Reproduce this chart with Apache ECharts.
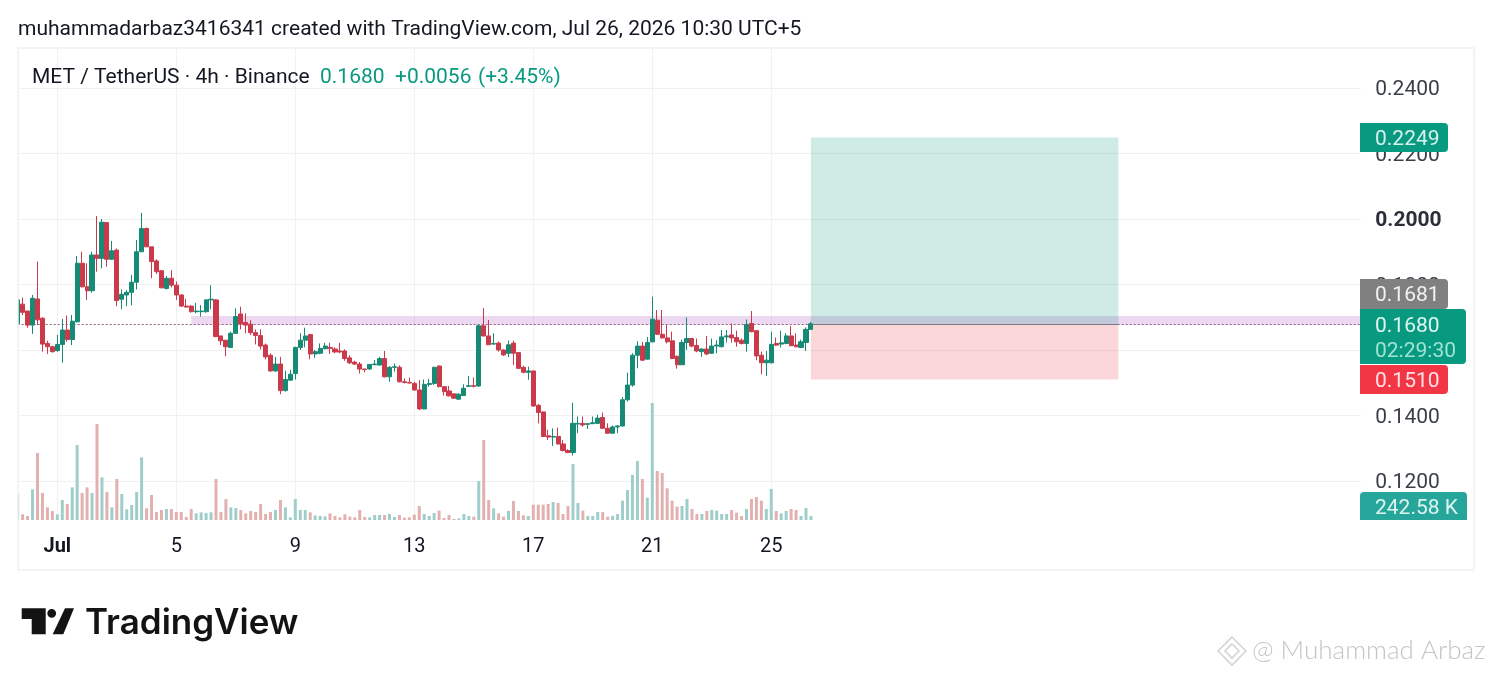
<!DOCTYPE html>
<html><head><meta charset="utf-8">
<style>html,body{margin:0;padding:0;background:#fff}#c{width:1492px;height:675px}</style>
<script src="https://cdn.jsdelivr.net/npm/echarts@6/dist/echarts.min.js"></script>
</head><body><div id="c"></div>
<script>
const opens=[.1681,
.1740,.1719,.1676,.1756,.1697,.1620,.1610,.1598,.1617,.1661,
.1632,.1686,.1865,.1793,.1781,.1890,.1880,.1989,.1877,.1905,
.1755,.1768,.1776,.1807,.1900,.1971,.1915,.1872,.1842,.1788,
.1819,.1798,.1768,.1734,.1734,.1717,.1717,.1717,.1753,.1753,
.1643,.1630,.1608,.1651,.1710,.1684,.1679,.1653,.1644,.1615,
.1584,.1536,.1557,.1476,.1508,.1528,.1608,.1630,.1647,.1588,
.1590,.1604,.1608,.1603,.1597,.1597,.1576,.1563,.1557,.1542,
.1542,.1555,.1554,.1574,.1518,.1547,.1547,.1503,.1501,.1498,
.1478,.1420,.1495,.1498,.1551,.1488,.1475,.1466,.1450,.1461,
.1489,.1491,.1490,.1674,.1643,.1618,.1621,.1600,.1590,.1621,
.1592,.1547,.1532,.1536,.1431,.1411,.1338,.1334,.1336,.1313,
.1293,.1287,.1374,.1376,.1373,.1375,.1376,.1394,.1361,.1346,
.1365,.1368,.1448,.1493,.1584,.1612,.1572,.1625,.1691,.1648,
.1637,.1628,.1581,.1555,.1623,.1635,.1614,.1595,.1603,.1590,
.1612,.1610,.1640,.1646,.1638,.1630,.1620,.1681,.1659,.1584,
.1561,.1561,.1620,.1618,.1620,.1643,.1615,.1608,.1623,.1663];
const closes=[.1753,
.1715,.1676,.1758,.1692,.1618,.1610,.1595,.1617,.1661,.1632,
.1688,.1865,.1793,.1781,.1890,.1880,.1990,.1877,.1903,.1751,
.1770,.1776,.1807,.1900,.1971,.1915,.1870,.1839,.1790,.1819,
.1798,.1768,.1734,.1731,.1717,.1719,.1719,.1753,.1755,.1641,
.1628,.1610,.1651,.1702,.1681,.1676,.1653,.1644,.1612,.1579,
.1536,.1557,.1476,.1510,.1526,.1608,.1630,.1643,.1588,.1595,
.1605,.1612,.1605,.1594,.1594,.1574,.1561,.1557,.1542,.1540,
.1556,.1557,.1574,.1518,.1547,.1549,.1503,.1501,.1499,.1478,
.1420,.1495,.1498,.1547,.1488,.1473,.1460,.1453,.1465,.1483,
.1491,.1489,.1674,.1643,.1616,.1620,.1600,.1585,.1616,.1590,
.1544,.1532,.1536,.1429,.1409,.1336,.1334,.1336,.1313,.1293,
.1287,.1376,.1376,.1371,.1375,.1378,.1392,.1361,.1346,.1365,
.1368,.1448,.1493,.1584,.1612,.1569,.1623,.1694,.1648,.1637,
.1625,.1574,.1555,.1623,.1635,.1612,.1597,.1603,.1588,.1612,
.1615,.1640,.1643,.1637,.1625,.1620,.1678,.1656,.1582,.1561,
.1569,.1617,.1615,.1622,.1643,.1613,.1610,.1625,.1663,.1680];
const highs=[.1758,
.1760,.1719,.1768,.1870,.1700,.1628,.1613,.1646,.1695,.1705,
.1707,.1887,.1900,.1865,.1900,.2009,.2000,.1989,.1933,.1910,
.1785,.1783,.1829,.1936,.2019,.1974,.1915,.1877,.1844,.1826,
.1844,.1809,.1770,.1756,.1737,.1744,.1737,.1755,.1798,.1755,
.1643,.1630,.1656,.1727,.1732,.1712,.1691,.1663,.1663,.1620,
.1590,.1579,.1579,.1537,.1539,.1610,.1651,.1668,.1649,.1600,
.1620,.1622,.1622,.1608,.1622,.1602,.1584,.1567,.1563,.1542,
.1557,.1569,.1579,.1597,.1551,.1559,.1553,.1513,.1516,.1503,
.1508,.1510,.1512,.1549,.1553,.1490,.1490,.1468,.1468,.1495,
.1521,.1516,.1677,.1728,.1692,.1651,.1626,.1602,.1629,.1629,
.1593,.1552,.1549,.1537,.1435,.1412,.1356,.1361,.1363,.1325,
.1297,.1439,.1397,.1397,.1376,.1397,.1402,.1409,.1376,.1370,
.1371,.1456,.1531,.1590,.1627,.1625,.1640,.1763,.1722,.1722,
.1676,.1656,.1583,.1632,.1699,.1637,.1635,.1605,.1643,.1635,
.1630,.1661,.1661,.1681,.1659,.1635,.1693,.1719,.1661,.1595,
.1597,.1656,.1638,.1659,.1651,.1673,.1651,.1632,.1669,.1686];
const lows=[.1675,
.1707,.1668,.1649,.1676,.1595,.1588,.1592,.1595,.1561,.1625,
.1615,.1684,.1791,.1753,.1775,.1839,.1849,.1854,.1875,.1734,
.1725,.1734,.1736,.1785,.1900,.1915,.1819,.1832,.1788,.1785,
.1791,.1753,.1732,.1730,.1714,.1712,.1702,.1714,.1724,.1639,
.1615,.1581,.1608,.1649,.1663,.1651,.1646,.1617,.1602,.1571,
.1534,.1534,.1465,.1473,.1506,.1510,.1600,.1608,.1572,.1576,
.1587,.1602,.1588,.1590,.1590,.1567,.1557,.1554,.1528,.1532,
.1539,.1554,.1553,.1516,.1503,.1534,.1501,.1498,.1498,.1475,
.1417,.1419,.1488,.1493,.1486,.1461,.1458,.1451,.1448,.1460,
.1488,.1486,.1488,.1641,.1616,.1616,.1595,.1582,.1578,.1554,
.1542,.1529,.1509,.1427,.1376,.1334,.1325,.1307,.1312,.1290,
.1285,.1278,.1346,.1366,.1359,.1374,.1374,.1359,.1344,.1344,
.1346,.1366,.1443,.1488,.1544,.1567,.1571,.1623,.1646,.1635,
.1620,.1572,.1543,.1554,.1600,.1608,.1593,.1579,.1584,.1588,
.1590,.1608,.1623,.1622,.1610,.1617,.1595,.1654,.1569,.1526,
.1521,.1559,.1612,.1608,.1618,.1612,.1608,.1606,.1597,.1661];
// volume, thousands
const volumes=[1560,
340,240,1840,4020,1620,760,540,340,1200,960,
1960,4500,1620,1960,1620,5760,2560,1680,760,2460,
1560,640,900,1680,3760,700,1500,480,600,660,
660,480,480,180,660,400,460,420,460,2460,
480,1260,760,720,600,400,540,480,960,360,
480,600,1200,760,160,1260,600,600,460,280,
240,220,400,240,160,340,200,160,600,180,
160,300,300,300,360,180,300,140,160,320,
840,360,240,420,560,120,300,60,100,360,
240,200,2340,4800,1200,700,400,200,540,1140,
540,280,240,920,920,920,960,1080,1020,360,
840,3360,1020,560,240,240,480,480,200,240,
360,1160,1800,2700,3540,2460,1340,7020,2940,2820,
1900,1160,800,840,1260,660,360,360,540,600,
560,360,360,600,440,240,660,1260,1380,1160,
660,1860,540,400,540,660,600,240,720,242.58];
const slotCount=272;
const categories=Array.from({length:slotCount},(_,i)=>'bar '+i);
const dateTicks={8:'Jul',32:'5',56:'9',80:'13',104:'17',128:'21',152:'25'};
const priceTicks={min:0.10,max:0.26,interval:0.02};
const lastPrice=0.1680, stopPrice=0.1510, targetPrice=0.2249;
const zoneTop=0.1704, zoneBottom=0.1677;
const posStart=160, posEnd=222, zoneStart=35;

const UP='#178a76', DOWN='#cb3a4b', F='Roboto';
const chart=echarts.init(document.getElementById('c'),null,{renderer:'canvas'});
const txt=(x,y,text,o={})=>({type:'text',x,y:y+(o.dy===undefined?2:o.dy),z:o.z||110,silent:true,style:Object.assign({text,fill:'#131722',font:`${o.w||400} ${o.s||21}px ${o.f||F}`,textVerticalAlign:'middle',textAlign:o.a||'left'},o.c?{fill:o.c}:{})});
const tag=(x,y,w,h,color,r)=>({type:'rect',z:105,silent:true,shape:{x,y,width:w,height:h,r:r||[0,4,4,0]},style:{fill:color}});
const poly=(pts,fill)=>({type:'polygon',z:110,silent:true,shape:{points:pts},style:{fill}});
const diamond=(cx,cy,r,st)=>({type:'polygon',z:110,silent:true,shape:{points:[[cx,cy-r],[cx+r,cy],[cx,cy+r],[cx-r,cy]]},style:{fill:'none',stroke:st,lineWidth:1.6}});
const graphics=[
 {type:'rect',z:99,silent:true,shape:{x:0,y:48,width:18,height:522},style:{fill:'#fff'}},
 {type:'rect',z:100,silent:true,shape:{x:18,y:48,width:1456,height:522},style:{fill:'none',stroke:'#f0f0f0',lineWidth:1.5}},
 txt(18,28,'muhammadarbaz3416341 created with TradingView.com, Jul 26, 2026 10:30 UTC+5',{s:21}),
 txt(32,76,'MET / TetherUS · 4h · Binance',{s:21}),
 txt(320,76,'0.1680',{s:21,c:'#089981'}),
 txt(395,76,'+0.0056',{s:21,c:'#089981'}),
 txt(478,76,'(+3.45%)',{s:21,c:'#089981'}),
 tag(1360,123,88,29,'#089981'), txt(1375,138,'0.2249',{c:'#d6f2ec'}),
 tag(1360,279,88,30,'#808080'), txt(1375,294,'0.1681',{c:'#f2f2f2'}),
 tag(1360,309,106,55,'#089981'), txt(1375,324.5,'0.1680',{c:'#dff5f0'}), txt(1375,350,'02:29:30',{c:'#9fe3d3'}),
 tag(1360,365,88,29,'#f23645'), txt(1375,380,'0.1510',{c:'#fde3e3'}),
 tag(1360,492,107,28,'#26a69a',[4,4,0,0]), txt(1375,507,'242.58 K',{c:'#dcf5f0'}),
 poly([[21.7,608.3],[45.7,608.3],[45.7,634.3],[31.7,634.3],[31.7,619],[21.7,619]],'#131313'),
 {type:'circle',z:110,silent:true,shape:{cx:51.7,cy:613.3,r:4.4},style:{fill:'#131313'}},
 poly([[65,608.3],[74,608.3],[63.3,634.3],[52.7,634.3]],'#131313'),
 txt(85,623,'TradingView',{s:35,w:600,f:'Inter',c:'#131313',dy:0}),
 diamond(1232,651,14,'#d4d4d4'), diamond(1232,651,7,'#d4d4d4'),
 txt(1252,651,'@ Muhammad Arbaz',{s:26,w:300,f:'Lato',c:'#c4c4c4',dy:0})
];
chart.setOption({
 animation:false,backgroundColor:'#fff',
 graphic:graphics,
 grid:[
  {left:17.67,top:22.5,width:1343.6,height:524,containLabel:false},
  {left:17.67,top:48,width:1343.6,height:472,containLabel:false}
 ],
 xAxis:[
  {type:'category',gridIndex:0,data:categories,boundaryGap:false,show:false},
  {type:'category',gridIndex:1,data:categories,boundaryGap:false,
   axisLine:{show:false},axisTick:{show:false},
   splitLine:{show:true,interval:i=>i in dateTicks,lineStyle:{color:'#f1f1f1',width:1}},
   axisLabel:{interval:i=>i in dateTicks,margin:17,fontFamily:F,fontSize:20,color:'#131722',
    formatter:(v,i)=>{const t=dateTicks[i]||'';return t==='Jul'?'{b|Jul}':t;},
    rich:{b:{fontFamily:F,fontSize:20,fontWeight:700,color:'#131722'}}}}
 ],
 yAxis:[
  {type:'value',gridIndex:0,position:'right',min:priceTicks.min,max:priceTicks.max,interval:priceTicks.interval,
   axisLine:{show:false},axisTick:{show:false},
   splitLine:{show:true,showMinLine:false,showMaxLine:false,lineStyle:{color:'#f1f1f1',width:1}},
   axisLabel:{margin:14,padding:[4,0,0,0],showMinLabel:false,showMaxLabel:false,fontFamily:F,fontSize:21,color:'#3a3e48',
    formatter:v=>Math.abs(v-0.2)<1e-9?'{b|0.2000}':v.toFixed(4),
    rich:{b:{fontFamily:F,fontSize:21,fontWeight:700,color:'#2a2e39'}}}},
  {type:'value',gridIndex:1,show:false,min:0,max:28320,splitLine:{show:false}}
 ],
 series:[
  {type:'bar',xAxisIndex:1,yAxisIndex:1,barWidth:3,z:1,
   data:volumes.map((v,i)=>({value:v,itemStyle:{color:closes[i]>=opens[i]?'#9fcdca':'#e3b0b0'}}))},
  {type:'candlestick',xAxisIndex:0,yAxisIndex:0,barWidth:4.6,z:3,
   data:opens.map((o,i)=>[o,closes[i],lows[i],highs[i]]),
   itemStyle:{color:UP,color0:DOWN,borderColor:UP,borderColor0:DOWN,borderWidth:1},
   markArea:{silent:true,z:1,data:[
    [{xAxis:categories[zoneStart],yAxis:zoneTop,itemStyle:{color:'rgba(156,39,176,0.18)'}},{xAxis:categories[slotCount-1],yAxis:zoneBottom}],
    [{xAxis:categories[posStart],yAxis:targetPrice,itemStyle:{color:'rgba(8,153,129,0.2)'}},{xAxis:categories[posEnd],yAxis:lastPrice}],
    [{xAxis:categories[posStart],yAxis:lastPrice,itemStyle:{color:'rgba(242,54,69,0.2)'}},{xAxis:categories[posEnd],yAxis:stopPrice}]
   ]},
   markLine:{silent:true,symbol:'none',label:{show:false},z:2,data:[
    [{xAxis:categories[0],yAxis:lastPrice,lineStyle:{color:'#8f5f7c',type:[2,2],width:1}},{xAxis:categories[slotCount-1],yAxis:lastPrice}],
    [{xAxis:categories[posStart],yAxis:lastPrice,lineStyle:{color:'#787b86',type:'solid',width:1}},{xAxis:categories[posEnd],yAxis:lastPrice}]
   ]}}
 ]
});
</script></body></html>
